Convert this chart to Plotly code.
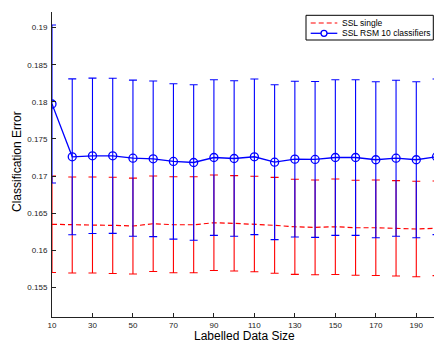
import plotly.graph_objects as go

# ---- data ----
sizes = [10, 20, 30, 40, 50, 60, 70, 80, 90, 100, 110, 120, 130, 140, 150, 160, 170, 180, 190, 200]

ssl_single_mean = [0.16349, 0.16339, 0.16339, 0.16335, 0.16326, 0.16357, 0.16343, 0.16343, 0.16370, 0.16362,
                   0.16353, 0.16335, 0.16316, 0.16308, 0.16316, 0.16303, 0.16303, 0.16295, 0.16286, 0.16295]
ssl_single_err = [0.00650, 0.00647, 0.00647, 0.00648, 0.00646, 0.00643, 0.00647, 0.00647, 0.00643, 0.00643,
                  0.00643, 0.00646, 0.00641, 0.00639, 0.00643, 0.00640, 0.00643, 0.00643, 0.00643, 0.00637]

rsm_mean = [0.17970, 0.17259, 0.17272, 0.17272, 0.17240, 0.17232, 0.17196, 0.17182, 0.17249, 0.17236,
            0.17259, 0.17186, 0.17227, 0.17223, 0.17249, 0.17249, 0.17219, 0.17240, 0.17219, 0.17259]
rsm_err = [0.01064, 0.01050, 0.01047, 0.01045, 0.01052, 0.01049, 0.01047, 0.01047, 0.01049, 0.01047,
           0.01049, 0.01044, 0.01049, 0.01050, 0.01049, 0.01049, 0.01052, 0.01051, 0.01052, 0.01049]

x_tick_vals = [10, 30, 50, 70, 90, 110, 130, 150, 170, 190]
y_tick_vals = [0.155, 0.16, 0.165, 0.17, 0.175, 0.18, 0.185, 0.19]
y_tick_text = ["0.155", "0.16", "0.165", "0.17", "0.175", "0.18", "0.185", "0.19"]

series_names = ["SSL single", "SSL RSM 10 classifiers"]
x_title = "Labelled Data Size"
y_title = "Classification Error"

RED = "rgb(255,0,0)"
BLUE = "rgb(0,0,255)"
FONT = "Liberation Sans, Arial, Helvetica, sans-serif"

W, H = 434, 342
ML, MR, MT, MB = 52, 0, 12, 25
PW, PH = W - ML - MR, H - MT - MB


def px(xp):
    return (xp - ML) / PW


def py(yp):
    return (H - MB - yp) / PH


fig = go.Figure()
fig.add_trace(go.Scatter(
    x=sizes, y=ssl_single_mean, mode="lines", name=series_names[0],
    line=dict(color=RED, width=1.2, dash="5px,3px"),
    error_y=dict(type="data", array=ssl_single_err, visible=True, color=RED, thickness=1.1, width=4),
    showlegend=False, cliponaxis=True,
))
fig.add_trace(go.Scatter(
    x=sizes, y=rsm_mean, mode="lines+markers", name=series_names[1],
    line=dict(color=BLUE, width=1.3),
    marker=dict(symbol="circle-open", size=8, color=BLUE, line=dict(width=1.3, color=BLUE)),
    error_y=dict(type="data", array=rsm_err, visible=True, color=BLUE, thickness=1.1, width=4),
    showlegend=False, cliponaxis=True,
))

axis_common = dict(
    showgrid=False, zeroline=False, showline=True, linecolor="#222", linewidth=1,
    ticks="inside", ticklen=4, tickwidth=1, tickcolor="#222",
    tickfont=dict(family=FONT, size=8, color="#222"),
)

fig.update_xaxes(range=[10, 198.75], tickvals=x_tick_vals, ticktext=[str(v) for v in x_tick_vals], **axis_common)
fig.update_yaxes(range=[0.151, 0.1921], tickvals=y_tick_vals, ticktext=y_tick_text, ticklabelstandoff=2, **axis_common)

shapes = [
    # legend box
    dict(type="rect", xref="paper", yref="paper", x0=px(306), x1=px(433.3), y0=py(40), y1=py(15.3),
         line=dict(color="black", width=1), fillcolor="white", layer="above"),
    dict(type="line", xref="paper", yref="paper", x0=px(310.7), x1=px(337.3), y0=py(23), y1=py(23),
         line=dict(color=RED, width=1.2, dash="5px,3px"), layer="above"),
    dict(type="line", xref="paper", yref="paper", x0=px(310.7), x1=px(337.3), y0=py(33.3), y1=py(33.3),
         line=dict(color=BLUE, width=1.3), layer="above"),
    dict(type="circle", xref="paper", yref="paper", xsizemode="pixel", ysizemode="pixel",
         xanchor=px(324), yanchor=py(33.3), x0=-3, x1=3, y0=-3, y1=3,
         line=dict(color=BLUE, width=1.3), fillcolor="white", layer="above"),
]

annotations = [
    dict(text=series_names[0], xref="paper", yref="paper", x=px(340), y=py(23), xanchor="left", yanchor="middle",
         showarrow=False, font=dict(family=FONT, size=8.5, color="black")),
    dict(text=series_names[1], xref="paper", yref="paper", x=px(340), y=py(33.3), xanchor="left", yanchor="middle",
         showarrow=False, font=dict(family=FONT, size=8.5, color="black")),
    dict(text=x_title, xref="paper", yref="paper", x=px(244.5), y=0, yshift=-19, xanchor="center", yanchor="middle",
         showarrow=False, font=dict(family=FONT, size=12, color="black")),
    dict(text=y_title, xref="paper", yref="paper", x=0, xshift=-35.5, y=py(161.5), xanchor="center", yanchor="middle",
         textangle=-90, showarrow=False, font=dict(family=FONT, size=12, color="black")),
]

fig.update_layout(
    width=W, height=H,
    margin=dict(l=ML, r=MR, t=MT, b=MB, pad=0),
    paper_bgcolor="white", plot_bgcolor="white",
    showlegend=False,
    shapes=shapes, annotations=annotations,
    font=dict(family=FONT),
)

fig.write_html("out.html")
